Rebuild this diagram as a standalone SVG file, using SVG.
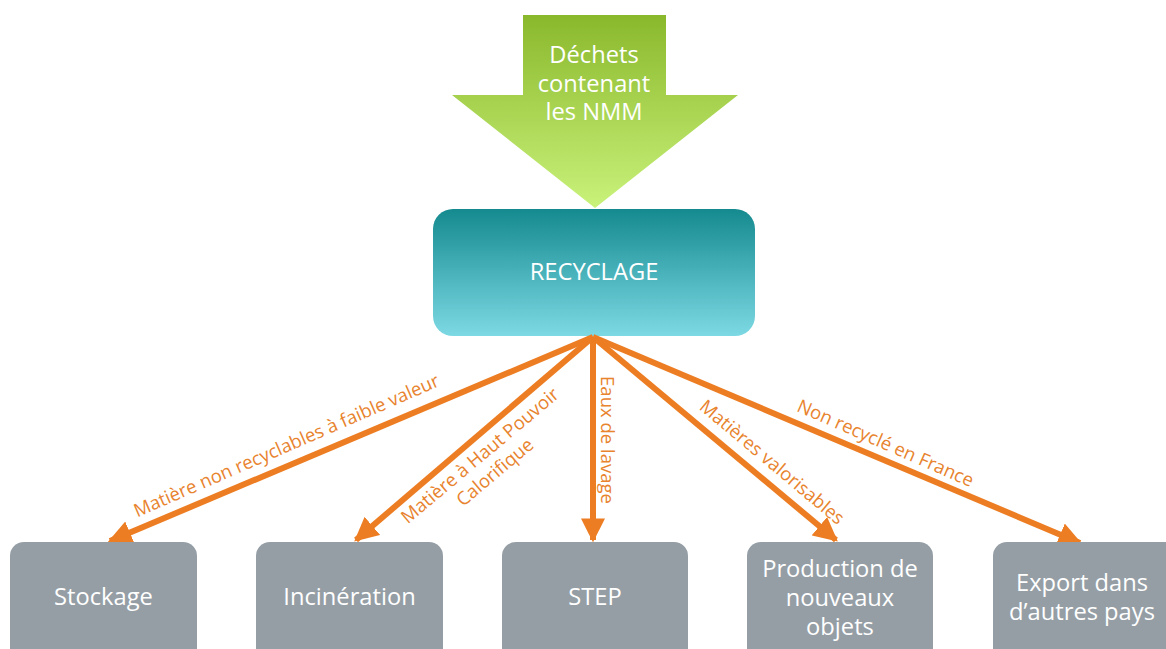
<svg xmlns="http://www.w3.org/2000/svg" width="1166" height="649" viewBox="0 0 1166 649">
  <defs>
    <linearGradient id="gGreen" x1="0" y1="0" x2="0" y2="1">
      <stop offset="0" stop-color="#8ab82c"/>
      <stop offset="1" stop-color="#c9f27a"/>
    </linearGradient>
    <linearGradient id="gTeal" x1="0" y1="0" x2="0" y2="1">
      <stop offset="0" stop-color="#148a8f"/>
      <stop offset="1" stop-color="#7dd9e4"/>
    </linearGradient>
    <marker id="ah" markerWidth="4" markerHeight="4" refX="3.6" refY="2" orient="auto" markerUnits="strokeWidth">
      <path d="M0,0 L4,2 L0,4 Z" fill="#ed7d22"/>
    </marker>
    <style>
      .node { fill: #959ea5; }
      .lbl { font-family: "Open Sans", "Liberation Sans", sans-serif; fill: #ffffff; font-size: 23.7px; text-anchor: middle; }
      .edge { stroke: #ed7d22; stroke-width: 6; fill: none; marker-end: url(#ah); }
      .elbl { font-family: "Open Sans", "Liberation Sans", sans-serif; fill: #e8832e; font-size: 18.5px; text-anchor: middle; }
    </style>
  </defs>

  <rect width="1166" height="649" fill="#ffffff"/>

  <!-- incoming waste arrow -->
  <g id="input">
    <path d="M523,15 L666,15 L666,95 L738,95 L595,208 L452,95 L523,95 Z" fill="url(#gGreen)"/>
    <text class="lbl" x="594" y="63">Déchets</text>
    <text class="lbl" x="594" y="91.5">contenant</text>
    <text class="lbl" x="594" y="120">les NMM</text>
  </g>

  <!-- central process -->
  <g id="recyclage">
    <rect x="433" y="209" width="322" height="127" rx="20" fill="url(#gTeal)"/>
    <text class="lbl" x="594" y="280">RECYCLAGE</text>
  </g>

  <!-- outgoing flows -->
  <g id="connectors">
    <line class="edge" x1="593" y1="337" x2="110" y2="541"/>
    <line class="edge" x1="593" y1="337" x2="356" y2="540"/>
    <line class="edge" x1="593" y1="337" x2="593" y2="540"/>
    <line class="edge" x1="593" y1="337" x2="836" y2="540"/>
    <line class="edge" x1="593" y1="337" x2="1080" y2="543"/>

    <text class="elbl" transform="translate(289,451.5) rotate(-23.5)">Matière non recyclables à faible valeur</text>
    <text class="elbl" transform="translate(484,460.5) rotate(-40)">Matière à Haut Pouvoir</text>
    <text class="elbl" transform="translate(499,477) rotate(-40)">Calorifique</text>
    <text class="elbl" transform="translate(601,440) rotate(90)">Eaux de lavage</text>
    <text class="elbl" transform="translate(768,467) rotate(40)">Matières valorisables</text>
    <text class="elbl" transform="translate(883,449) rotate(23.7)">Non recyclé en France</text>
  </g>

  <!-- destinations -->
  <g id="stockage">
    <rect class="node" x="10" y="542" width="187" height="120" rx="14"/>
    <text class="lbl" x="103.5" y="605">Stockage</text>
  </g>
  <g id="incineration">
    <rect class="node" x="256" y="542" width="187" height="120" rx="14"/>
    <text class="lbl" x="349.5" y="605">Incinération</text>
  </g>
  <g id="step">
    <rect class="node" x="502" y="542" width="186" height="120" rx="14"/>
    <text class="lbl" x="595" y="605">STEP</text>
  </g>
  <g id="production">
    <rect class="node" x="747" y="542" width="186" height="120" rx="14"/>
    <text class="lbl" x="840" y="577">Production de</text>
    <text class="lbl" x="840" y="606">nouveaux</text>
    <text class="lbl" x="840" y="635">objets</text>
  </g>
  <g id="export">
    <rect class="node" x="993" y="542" width="190" height="120" rx="14"/>
    <text class="lbl" x="1082" y="591">Export dans</text>
    <text class="lbl" x="1082" y="620">d’autres pays</text>
  </g>
</svg>
